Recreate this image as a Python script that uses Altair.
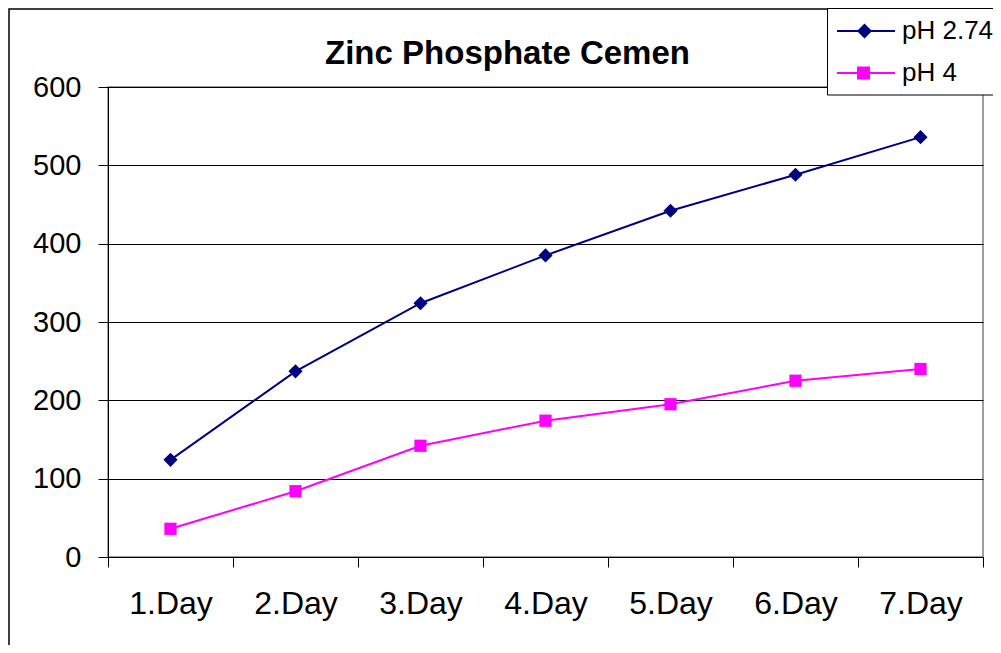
import altair as alt
import pandas as pd

days = ["1.Day", "2.Day", "3.Day", "4.Day", "5.Day", "6.Day", "7.Day"]
ph_274 = [124, 237, 324, 385, 442, 488, 536]
ph_4 = [36, 84, 142, 174, 195, 225, 240]
series_names = ["pH 2.74", "pH 4"]
series_colors = ["#000080", "#FF00FF"]
y_ticks = [0, 100, 200, 300, 400, 500, 600]

rows = []
for d, v in zip(days, ph_274):
    rows.append({"day": d, "value": v, "series": series_names[0]})
for d, v in zip(days, ph_4):
    rows.append({"day": d, "value": v, "series": series_names[1]})
df = pd.DataFrame(rows)

W, H = 875, 470
FONT = "Liberation Sans"

x_enc = alt.X(
    "day:N",
    sort=days,
    scale=alt.Scale(type="band", domain=days, paddingInner=0, paddingOuter=0),
    axis=alt.Axis(
        title=None, labelAngle=0, tickBand="extent", tickSize=10, labelPadding=21,
        labelFontSize=32, labelFont=FONT, labelColor="black",
        domainColor="black", tickColor="black", grid=False,
    ),
)
y_enc = alt.Y(
    "value:Q",
    scale=alt.Scale(domain=[0, 600], nice=False),
    axis=alt.Axis(
        title=None, values=y_ticks, grid=True, gridColor="black", gridWidth=1,
        tickSize=10, labelPadding=17, labelFontSize=29, labelFont=FONT,
        labelColor="black", domainColor="black", tickColor="black",
    ),
)

base = alt.Chart(df)

lines = base.mark_line(strokeWidth=2).encode(
    x=x_enc, y=y_enc,
    color=alt.Color("series:N", scale=alt.Scale(domain=series_names, range=series_colors), legend=None),
)

points = base.mark_point(filled=True, opacity=1).encode(
    x=x_enc, y=y_enc,
    color=alt.Color("series:N", scale=alt.Scale(domain=series_names, range=series_colors), legend=None),
    shape=alt.Shape("series:N", scale=alt.Scale(domain=series_names, range=["diamond", "square"]), legend=None),
    size=alt.Size("series:N", scale=alt.Scale(domain=series_names, range=[200, 150]), legend=None),
)

# legend symbols: a thin filled bar (the line) with the series marker on it (unit = 5 px)
legend_paths = [
    "M-2.6,-0.2L9,-0.2L9,0.2L-2.6,0.2ZM2.9,-1.5L4.4,0L2.9,1.5L1.4,0Z",
    "M-2.6,-0.2L9,-0.2L9,0.2L-2.6,0.2ZM1.4,-1.3L4,-1.3L4,1.3L1.4,1.3Z",
]
ROW_STEP = 42


def legend_entry(i):
    name = series_names[i]
    return base.transform_filter(alt.datum.series == name).mark_point(
        filled=True, opacity=0, color=series_colors[i]
    ).encode(
        x=x_enc, y=y_enc,
        shape=alt.Shape(
            "series:N",
            scale=alt.Scale(domain=[name], range=[legend_paths[i]]),
            legend=alt.Legend(
                title=None, orient="none", legendX=719, legendY=-79 + i * ROW_STEP,
                symbolFillColor=series_colors[i],
            ),
        ),
    )


legend_box = alt.Chart(pd.DataFrame({"k": [0]})).mark_rect(
    fill="white", stroke="black", strokeWidth=1
).encode(
    x=alt.value(719.5), x2=alt.value(W + 60),
    y=alt.value(-78.5), y2=alt.value(8),
)

frame = alt.Chart(pd.DataFrame({"k": [0]})).mark_rect(
    filled=False, stroke="black", strokeWidth=1.5
).encode(
    x=alt.value(-99), x2=alt.value(W + 80),
    y=alt.value(-78), y2=alt.value(H + 120),
)

chart = alt.layer(
    frame, lines, points, legend_box, legend_entry(0), legend_entry(1)
).resolve_scale(
    shape="independent", size="independent"
).properties(
    width=W, height=H,
    padding={"left": 100, "top": 79, "right": 10, "bottom": 88},
    autosize=alt.AutoSizeParams(type="none"),
    title=alt.TitleParams(
        "Zinc Phosphate Cemen", fontSize=33, font=FONT, fontWeight="bold",
        anchor="middle", frame="group", baseline="alphabetic", offset=-89, dx=-38,
        color="black",
    ),
).configure_view(
    stroke="#808080", strokeWidth=1.5
).configure_legend(
    padding=10, cornerRadius=0,
    labelFontSize=26, labelFont=FONT, labelColor="black",
    symbolSize=100, symbolStrokeWidth=0, labelOffset=39,
    symbolOpacity=1,
)

chart.save("out.html", embed_options={"renderer": "svg", "actions": False})
